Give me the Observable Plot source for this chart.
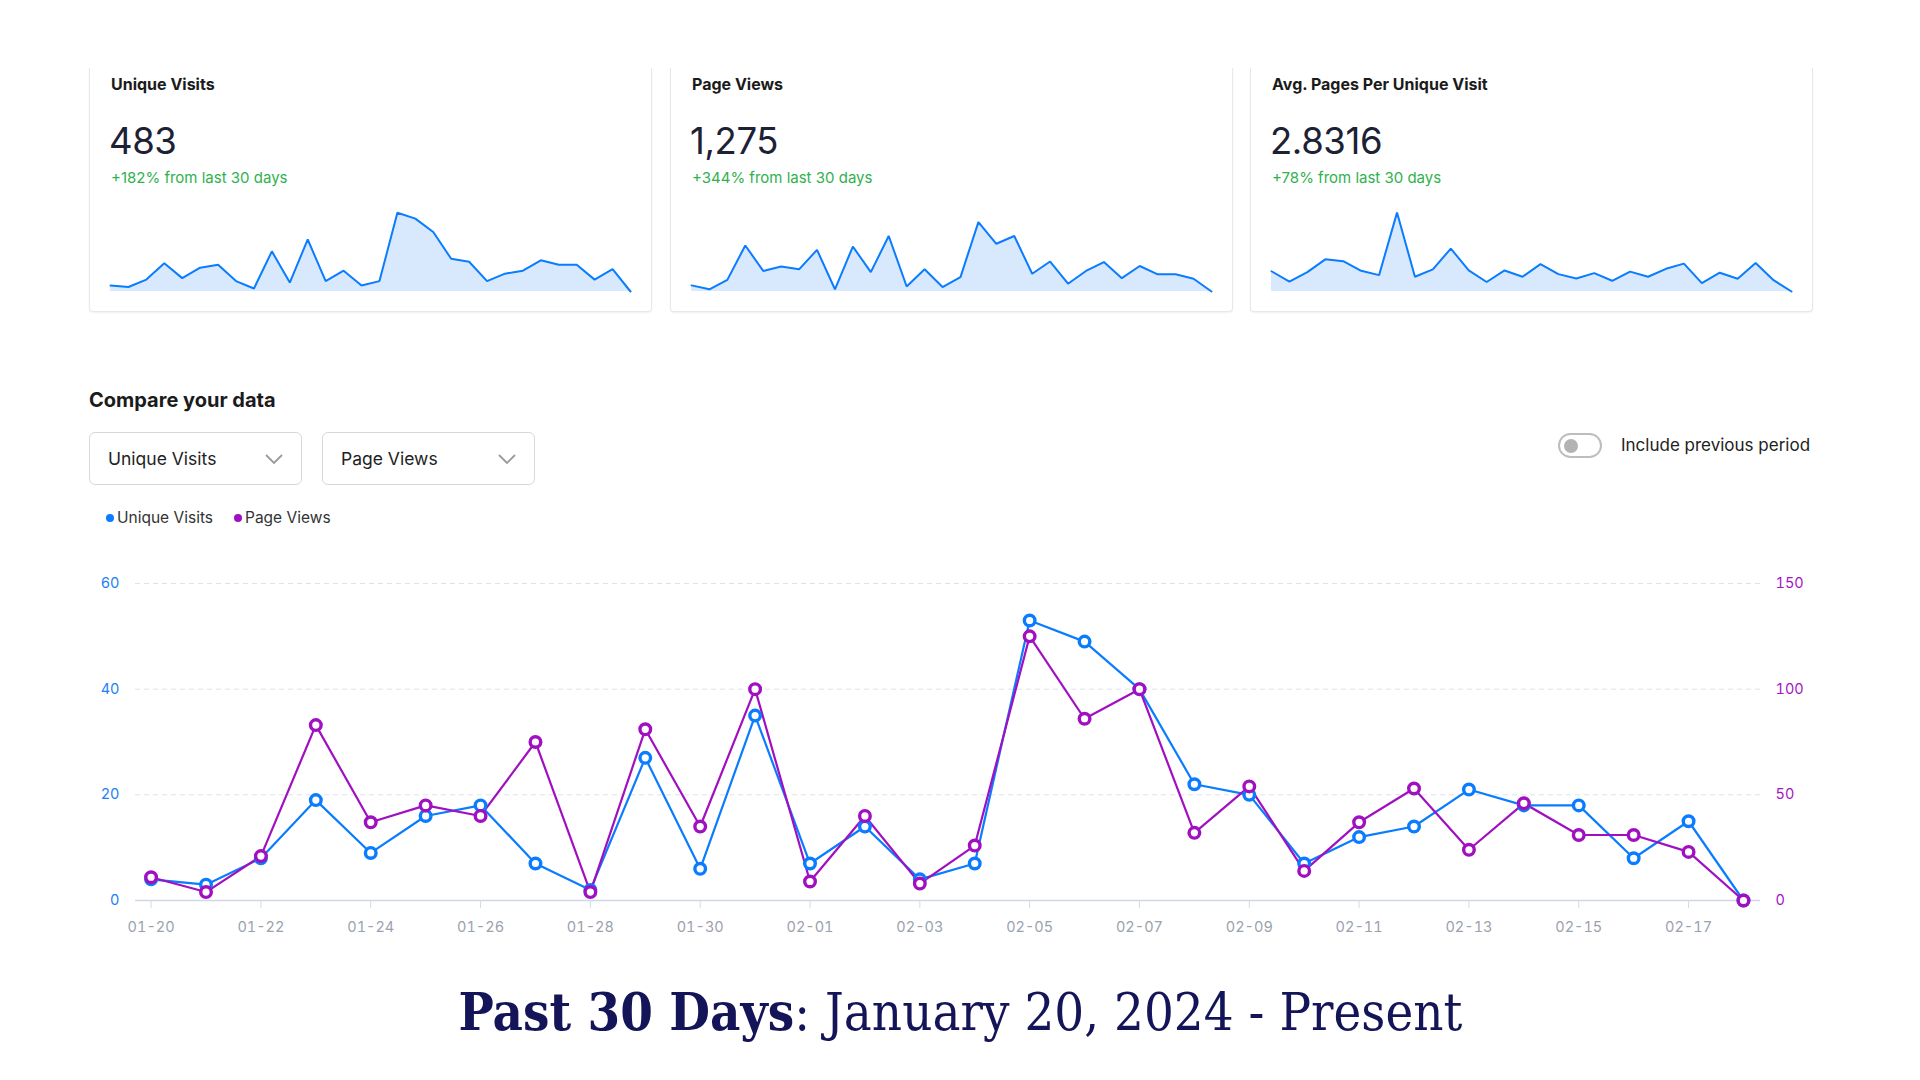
<!DOCTYPE html>
<html>
<head>
<meta charset="utf-8">
<script src="https://cdn.jsdelivr.net/npm/d3@7"></script>
<script src="https://cdn.jsdelivr.net/npm/@observablehq/plot@0.6"></script>
<style>
  html, body { margin: 0; padding: 0; background: #ffffff; }
  body { width: 1920px; height: 1080px; position: relative; overflow: hidden; font-family: Inter, "Noto Sans", sans-serif; color: #1c1c1c; }
  .card { position: absolute; top: 68px; height: 243px; border: 1px solid #e8e8e8; border-top: none; border-radius: 0 0 4px 4px; box-shadow: 0 1px 2px rgba(0,0,0,0.06); background: #fff; }
  .card .title { position: absolute; left: 21px; top: 6px; font-size: 16px; font-weight: 700; color: #1b1b1b; }
  .card .big { position: absolute; left: 19px; top: 51px; font-size: 36.5px; font-weight: 400; color: #1d2134; letter-spacing: -0.4px; }
  .card .delta { position: absolute; left: 21px; top: 100px; font-size: 15px; color: #2fb14d; }
  .spark { position: absolute; }
  .h2 { position: absolute; left: 89px; top: 388px; font-size: 20px; font-weight: 700; color: #1b1b1b; }
  .select { position: absolute; top: 432px; width: 213px; height: 53px; border: 1px solid #d8d8d8; border-radius: 6px; box-sizing: border-box; font-size: 17.5px; color: #222; }
  .select span { position: absolute; left: 18px; top: 15px; }
  .select svg { position: absolute; right: 18px; top: 21px; }
  .toggle { position: absolute; left: 1558px; top: 433px; width: 44px; height: 25px; border: 2px solid #bdbdbd; border-radius: 14px; box-sizing: border-box; }
  .toggle i { position: absolute; left: 4px; top: 3.5px; width: 14px; height: 14px; border-radius: 50%; background: #b3b3b3; }
  .togglelabel { position: absolute; left: 1621px; top: 435px; font-size: 17px; color: #222; }
  .legend { position: absolute; left: 106px; top: 508px; font-size: 15.5px; color: #333; display: flex; gap: 21px; }
  .legend .item { display: flex; align-items: center; gap: 3px; }
  .legend .dot { width: 8px; height: 8px; border-radius: 50%; display: inline-block; }
  #main { position: absolute; left: 89px; top: 560px; }
  #caption { position: absolute; left: 0; top: 981px; width: 1920px; text-align: center; color: #141458; font-family: "DejaVu Serif", "Liberation Serif", serif; font-size: 52px; white-space: nowrap; }
  #caption .inner { display: inline-block; transform-origin: center center; }
</style>
</head>
<body>

<div class="card" style="left:89px;width:561px;">
  <div class="title">Unique Visits</div>
  <div class="big">483</div>
  <div class="delta">+182% from last 30 days</div>
</div>
<div class="card" style="left:670px;width:561px;">
  <div class="title">Page Views</div>
  <div class="big">1,275</div>
  <div class="delta">+344% from last 30 days</div>
</div>
<div class="card" style="left:1250px;width:561px;">
  <div class="title">Avg. Pages Per Unique Visit</div>
  <div class="big">2.8316</div>
  <div class="delta">+78% from last 30 days</div>
</div>
<div class="spark" id="s1" style="left:109px;top:208px;"></div>
<div class="spark" id="s2" style="left:690px;top:208px;"></div>
<div class="spark" id="s3" style="left:1270px;top:208px;"></div>

<div class="h2">Compare your data</div>
<div class="select" style="left:89px;"><span>Unique Visits</span>
  <svg width="18" height="11" viewBox="0 0 18 11"><path d="M1 1 L9 9 L17 1" fill="none" stroke="#9a9a9a" stroke-width="1.8"/></svg></div>
<div class="select" style="left:322px;"><span>Page Views</span>
  <svg width="18" height="11" viewBox="0 0 18 11"><path d="M1 1 L9 9 L17 1" fill="none" stroke="#9a9a9a" stroke-width="1.8"/></svg></div>
<div class="toggle"><i></i></div>
<div class="togglelabel">Include previous period</div>

<div class="legend">
  <div class="item"><span class="dot" style="background:#0a7cff"></span>Unique Visits</div>
  <div class="item"><span class="dot" style="background:#a10fc0"></span>Page Views</div>
</div>

<div id="main"></div>

<div id="caption"><span class="inner"><b>Past 30 Days</b>: January 20, 2024 - Present</span></div>

<script>
// ---- data ----
const dates = [
  "2024-01-20","2024-01-21","2024-01-22","2024-01-23","2024-01-24","2024-01-25","2024-01-26","2024-01-27","2024-01-28","2024-01-29",
  "2024-01-30","2024-01-31","2024-02-01","2024-02-02","2024-02-03","2024-02-04","2024-02-05","2024-02-06","2024-02-07","2024-02-08",
  "2024-02-09","2024-02-10","2024-02-11","2024-02-12","2024-02-13","2024-02-14","2024-02-15","2024-02-16","2024-02-17","2024-02-18"
];
const uniqueVisits = [4,3,8,19,9,16,18,7,2,27,6,35,7,14,4,7,53,49,40,22,20,7,12,14,21,18,18,8,15,0];
const pageViews = [11,4,21,83,37,45,40,75,4,81,35,100,9,40,8,26,125,86,100,32,54,14,37,53,24,46,31,31,23,0];
const leftTicks = [0,20,40,60];
const tickDates = ["2024-01-20","2024-01-22","2024-01-24","2024-01-26","2024-01-28","2024-01-30","2024-02-01","2024-02-03",
  "2024-02-05","2024-02-07","2024-02-09","2024-02-11","2024-02-13","2024-02-15","2024-02-17"];

const BLUE = "#0a7cff", PURPLE = "#a010c0";
const rows = dates.map((d, i) => ({
  date: new Date(d + "T00:00:00Z"),
  uv: uniqueVisits[i],
  pv: pageViews[i],
  ratio: uniqueVisits[i] ? pageViews[i] / uniqueVisits[i] : 0
}));

// ---- sparklines ----
function spark(el, key, ymax) {
  const p = Plot.plot({
    width: 522, height: 84,
    marginTop: 2, marginBottom: 1, marginLeft: 1, marginRight: 1,
    x: {type: "utc", axis: null},
    y: {domain: [0, ymax], axis: null},
    style: {background: "transparent", overflow: "visible"},
    marks: [
      Plot.areaY(rows, {x: "date", y: key, fill: "#d9e9fd"}),
      Plot.lineY(rows, {x: "date", y: key, stroke: BLUE, strokeWidth: 2, strokeLinejoin: "miter"})
    ]
  });
  document.getElementById(el).appendChild(p);
}
spark("s1", "uv", 54.5);
spark("s2", "pv", 146);
spark("s3", "ratio", 11);

// ---- main comparison chart ----
const k = 60 / 150;
const day = 864e5;
const main = Plot.plot({
  width: 1723, height: 380,
  marginTop: 23, marginBottom: 40, marginLeft: 46, marginRight: 52,
  style: {fontFamily: "Inter, sans-serif", fontSize: "14.5px", background: "transparent", overflow: "visible"},
  x: {type: "utc", domain: [new Date(Date.parse("2024-01-20T00:00:00Z") - 0.284 * day), new Date(Date.parse("2024-02-18T00:00:00Z") + 0.31 * day)]},
  y: {domain: [0, 60]},
  marks: [
    Plot.gridY(leftTicks.filter(d => d > 0), {stroke: "#dde2ec", strokeOpacity: 1, strokeDasharray: "5,4"}),
    Plot.ruleY([0], {stroke: "#cfd7e8", strokeWidth: 1.5}),
    Plot.axisY(leftTicks, {anchor: "left", tickSize: 0, tickPadding: 16, fill: "#1c80f7", label: null}),
    Plot.axisY(leftTicks, {anchor: "right", tickSize: 0, tickPadding: 15, fill: "#a516c2", tickFormat: d => d / k, label: null}),
    Plot.axisX(tickDates.map(d => new Date(d + "T00:00:00Z")), {tickFormat: d3.utcFormat("%m-%d"), tickSize: 8, stroke: "#d3dae8", fill: "#9aa2ae", tickPadding: 13, label: null}),
    Plot.lineY(rows, {x: "date", y: "uv", stroke: BLUE, strokeWidth: 2.2}),
    Plot.lineY(rows, {x: "date", y: d => d.pv * k, stroke: PURPLE, strokeWidth: 2.2}),
    Plot.dot(rows, {x: "date", y: "uv", r: 5.3, stroke: BLUE, strokeWidth: 3.4, fill: "white"}),
    Plot.dot(rows, {x: "date", y: d => d.pv * k, r: 5.3, stroke: PURPLE, strokeWidth: 3.4, fill: "white"})
  ]
});
document.getElementById("main").appendChild(main);

// fit caption width to the reference span
const inner = document.querySelector("#caption .inner");
const w = inner.getBoundingClientRect().width;
const sx = Math.min(1.2, 1004 / w);
inner.style.transform = "scaleX(" + sx + ")";
</script>
</body>
</html>
